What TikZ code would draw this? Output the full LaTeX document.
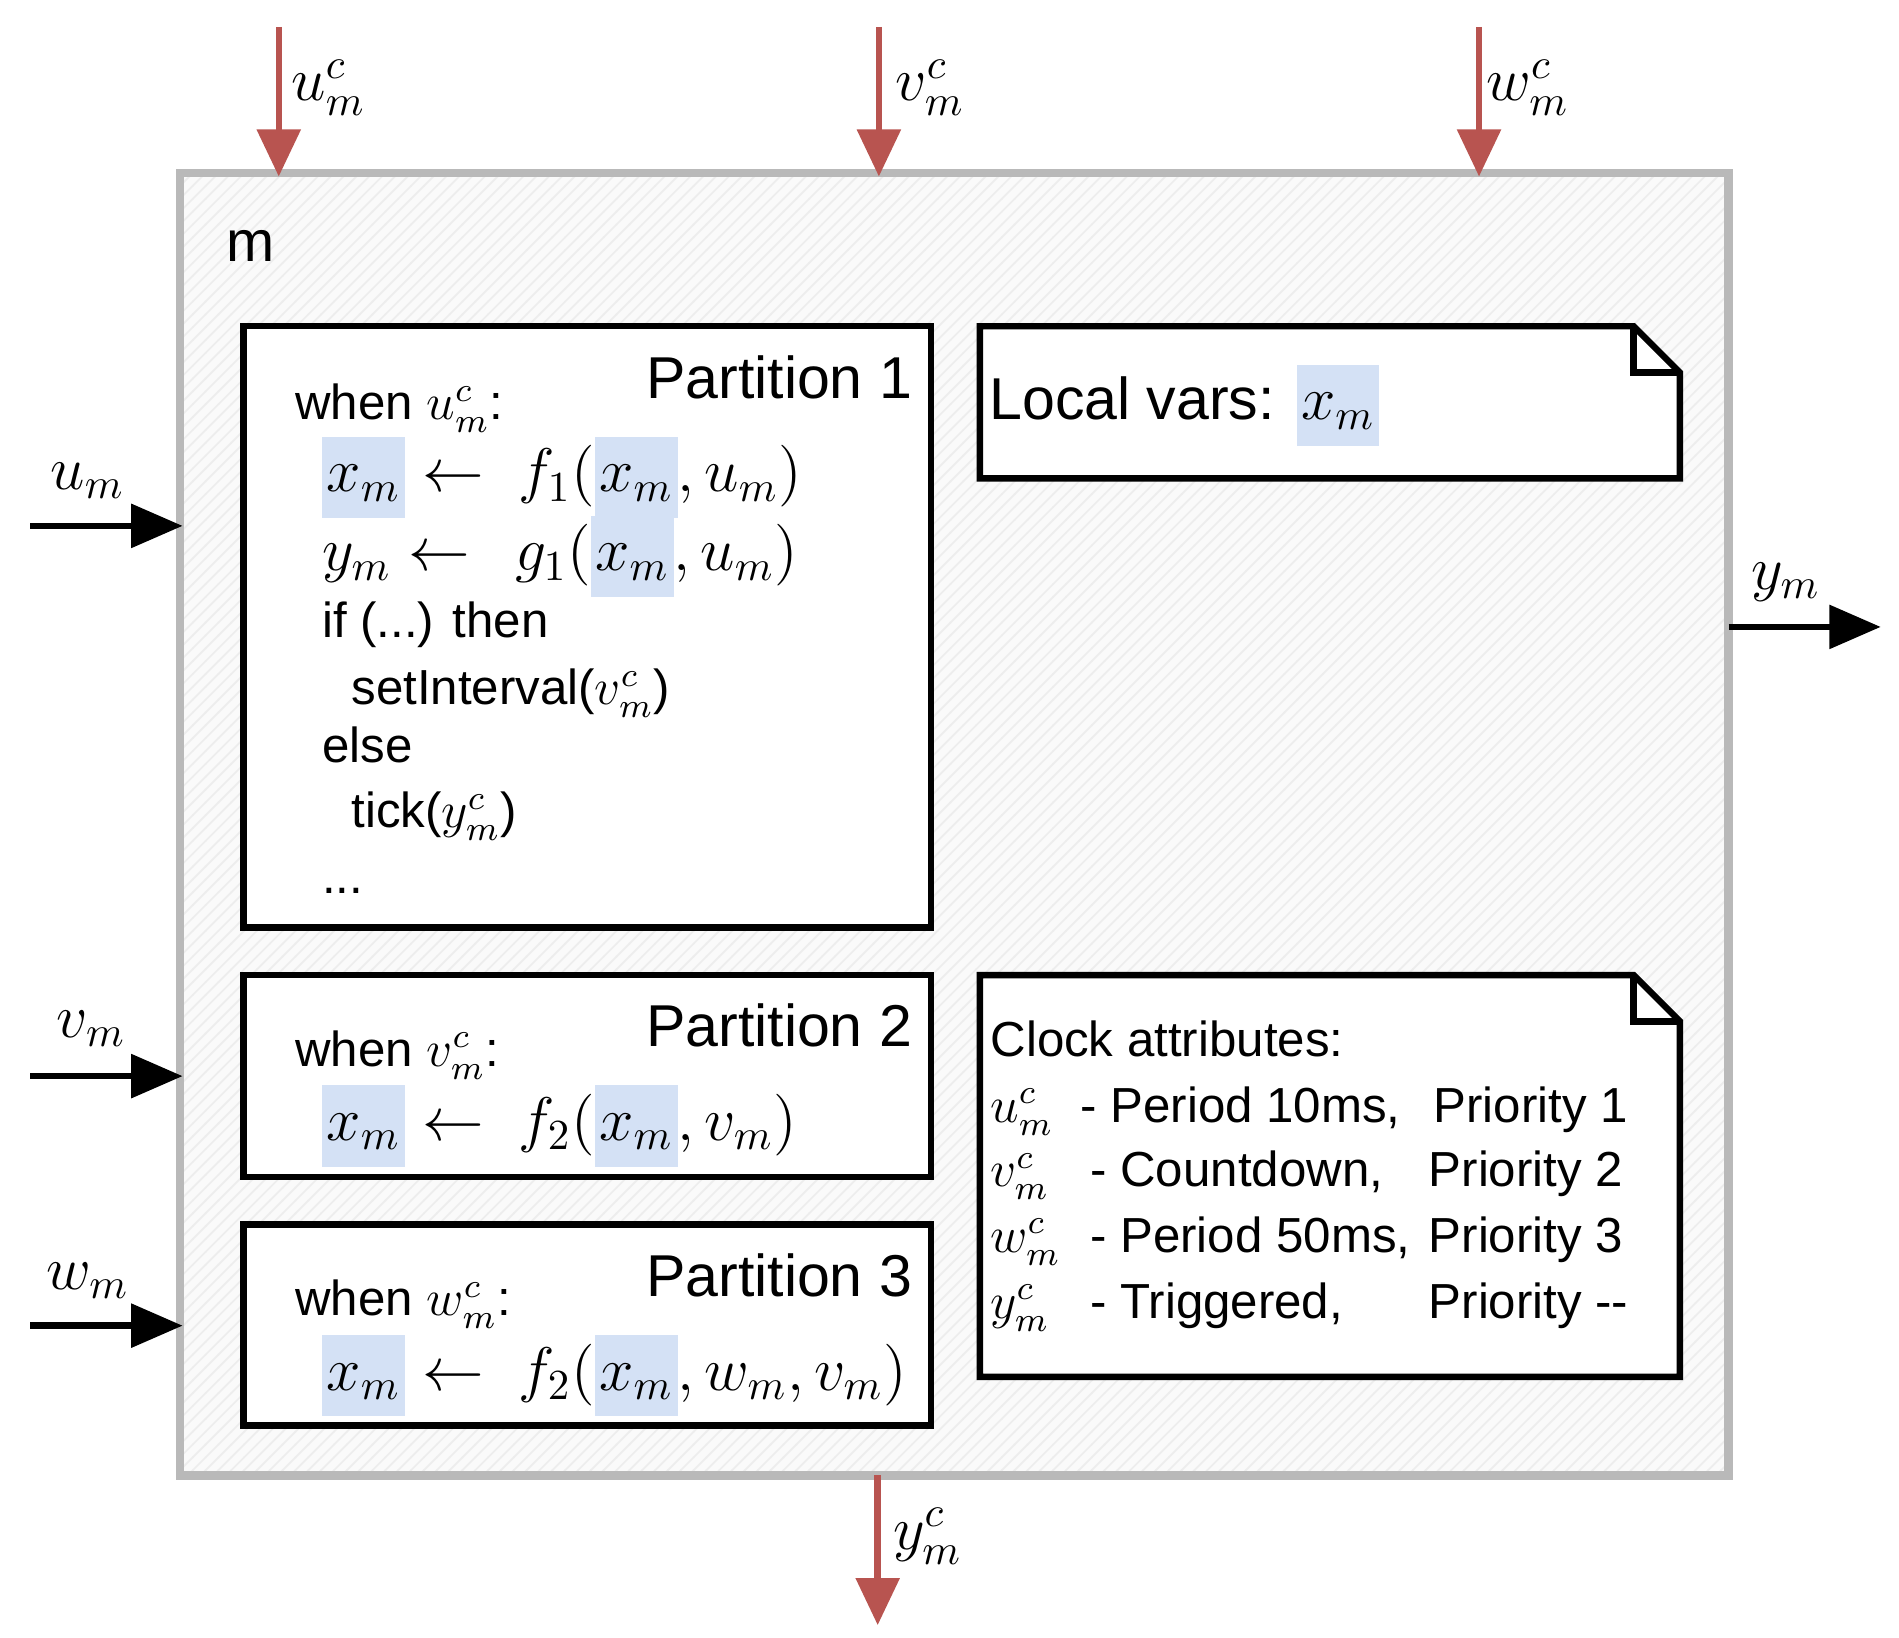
\documentclass[tikz,border=0pt]{standalone}
\usepackage{fontspec}
\setmainfont{Liberation Sans}
\usetikzlibrary{patterns,arrows.meta}
\definecolor{hl}{HTML}{D4E1F5}
\definecolor{redc}{HTML}{B85450}
\newcommand\hlx{{\setlength{\fboxsep}{1pt}\colorbox{hl}{\strut$x_m$}}}
\newcommand\bodyfs{\fontsize{11.5}{14}\selectfont}
\newcommand\mathfs{\fontsize{14.5}{17}\selectfont}
\newcommand\bigfs{\fontsize{13.8}{16}\selectfont}
\begin{document}
\begin{tikzpicture}[x=0.01cm,y=-0.01cm,
  box/.style={draw=black,line width=1.5pt,fill=white},
  txt/.style={anchor=base west,inner sep=0pt},
  redarr/.style={draw=redc,line width=1.5pt,-{Triangle[length=11pt,width=10pt]}},
  blkarr/.style={draw=black,line width=1.5pt,-{Triangle[length=12pt,width=10pt]}},
  lab/.style={inner sep=0pt,font=\mathfs}]
\useasboundingbox (0,0) rectangle (1560,1345);
% outer module
\fill[gray!4] (148,142) rectangle (1420,1212);
\fill[pattern=north east lines,pattern color=gray!14] (148,142) rectangle (1420,1212);
\draw[gray!55,line width=2pt] (148,142) rectangle (1420,1212);
\node[txt,font=\fontsize{13.5}{16}\selectfont] (m) at (185,215) {m};
% coordinates on module border
\coordinate (t1) at (229,145); \coordinate (t1s) at (229,22);
\coordinate (t2) at (722,145); \coordinate (t2s) at (722,22);
\coordinate (t3) at (1215,145); \coordinate (t3s) at (1215,22);
\coordinate (bs) at (721,1212); \coordinate (be) at (721,1335);
\coordinate (l1s) at (25,432); \coordinate (l1) at (150,432);
\coordinate (l2s) at (25,884); \coordinate (l2) at (150,884);
\coordinate (l3s) at (25,1089); \coordinate (l3) at (150,1089);
\coordinate (rs) at (1420,515); \coordinate (re) at (1545,515);
\draw[redarr] (t1s) -- (t1);
\draw[redarr] (t2s) -- (t2);
\draw[redarr] (t3s) -- (t3);
\draw[redarr] (bs) -- (be);
\draw[blkarr] (l1s) -- (l1);
\draw[blkarr] (l2s) -- (l2);
\draw[blkarr] (l3s) -- (l3);
\draw[blkarr] (rs) -- (re);
\node[lab] (lt1) at (270,72) {$u^c_m$};
\node[lab] (lt2) at (764,72) {$v^c_m$};
\node[lab] (lt3) at (1255,72) {$w^c_m$};
\node[lab] (lb) at (762,1262) {$y^c_m$};
\node[lab] (ll1) at (72,395) {$u_m$};
\node[lab] (ll2) at (75,845) {$v_m$};
\node[lab] (ll3) at (72,1052) {$w_m$};
\node[lab] (lr) at (1467,478) {$y_m$};
% partitions
\draw[box] (200,268) rectangle (765,762);
\draw[box] (200,801) rectangle (765,967);
\draw[box] (200,1006) rectangle (765,1171);
\node[anchor=base east,inner sep=0pt,font=\bigfs] (p1) at (750,327) {Partition 1};
\node[anchor=base east,inner sep=0pt,font=\bigfs] (p2) at (750,860) {Partition 2};
\node[anchor=base east,inner sep=0pt,font=\bigfs] (p3) at (750,1065) {Partition 3};
% partition 1 text
\node[txt,font=\bodyfs] (a1) at (242,345) {when $u^c_m$:};
\node[txt,font=\mathfs] (a2) at (264,404) {\hlx\;$\leftarrow$\;\;$f_1\bigl($\hlx$,u_m\bigr)$};
\node[txt,font=\mathfs] (a3) at (264,469) {$y_m$\;$\leftarrow$\;\;\,$g_1\bigl($\hlx$,u_m\bigr)$};
\node[txt,font=\bodyfs] (a4) at (264,524) {if (...) then};
\node[txt,font=\bodyfs] (a5) at (288,579) {setInterval($v^c_m$)};
\node[txt,font=\bodyfs] (a6) at (264,626) {else};
\node[txt,font=\bodyfs] (a7) at (288,680) {tick($y^c_m$)};
\node[txt,font=\bodyfs] (a8) at (264,734) {...};
% partition 2
\node[txt,font=\bodyfs] (b1) at (242,876) {when $v^c_m$:};
\node[txt,font=\mathfs] (b2) at (264,937) {\hlx\;$\leftarrow$\;\;$f_2\bigl($\hlx$,v_m\bigr)$};
% partition 3
\node[txt,font=\bodyfs] (c1) at (242,1081) {when $w^c_m$:};
\node[txt,font=\mathfs] (c2) at (264,1142) {\hlx\;$\leftarrow$\;\;$f_2\bigl($\hlx$,w_m,v_m\bigr)$};
% notes
\draw[box] (805,268) -- (1342,268) -- (1380,306) -- (1380,393) -- (805,393) -- cycle;
\draw[line width=1.5pt] (1342,268) -- (1342,306) -- (1380,306);
\draw[box] (805,801) -- (1342,801) -- (1380,839) -- (1380,1131) -- (805,1131) -- cycle;
\draw[line width=1.5pt] (1342,801) -- (1342,839) -- (1380,839);
\node[txt,font=\bigfs] (lv) at (812,345) {Local vars: {\mathfs\hlx}};
\node[txt,font=\bodyfs] (k0) at (813,868) {Clock attributes:};
\node[txt,font=\bodyfs] (k1) at (813,922) {$u^c_m$};
\node[txt,font=\bodyfs] (k1b) at (887,922) {- Period 10ms,};
\node[txt,font=\bodyfs] (k1c) at (1177,922) {Priority 1};
\node[txt,font=\bodyfs] (k2) at (813,975) {$v^c_m$};
\node[txt,font=\bodyfs] (k2b) at (895,975) {- Countdown,};
\node[txt,font=\bodyfs] (k2c) at (1173,975) {Priority 2};
\node[txt,font=\bodyfs] (k3) at (813,1029) {$w^c_m$};
\node[txt,font=\bodyfs] (k3b) at (895,1029) {- Period 50ms,};
\node[txt,font=\bodyfs] (k3c) at (1173,1029) {Priority 3};
\node[txt,font=\bodyfs] (k4) at (813,1083) {$y^c_m$};
\node[txt,font=\bodyfs] (k4b) at (895,1083) {- Triggered,};
\node[txt,font=\bodyfs] (k4c) at (1173,1083) {Priority -{}-};
\end{tikzpicture}
\end{document}
